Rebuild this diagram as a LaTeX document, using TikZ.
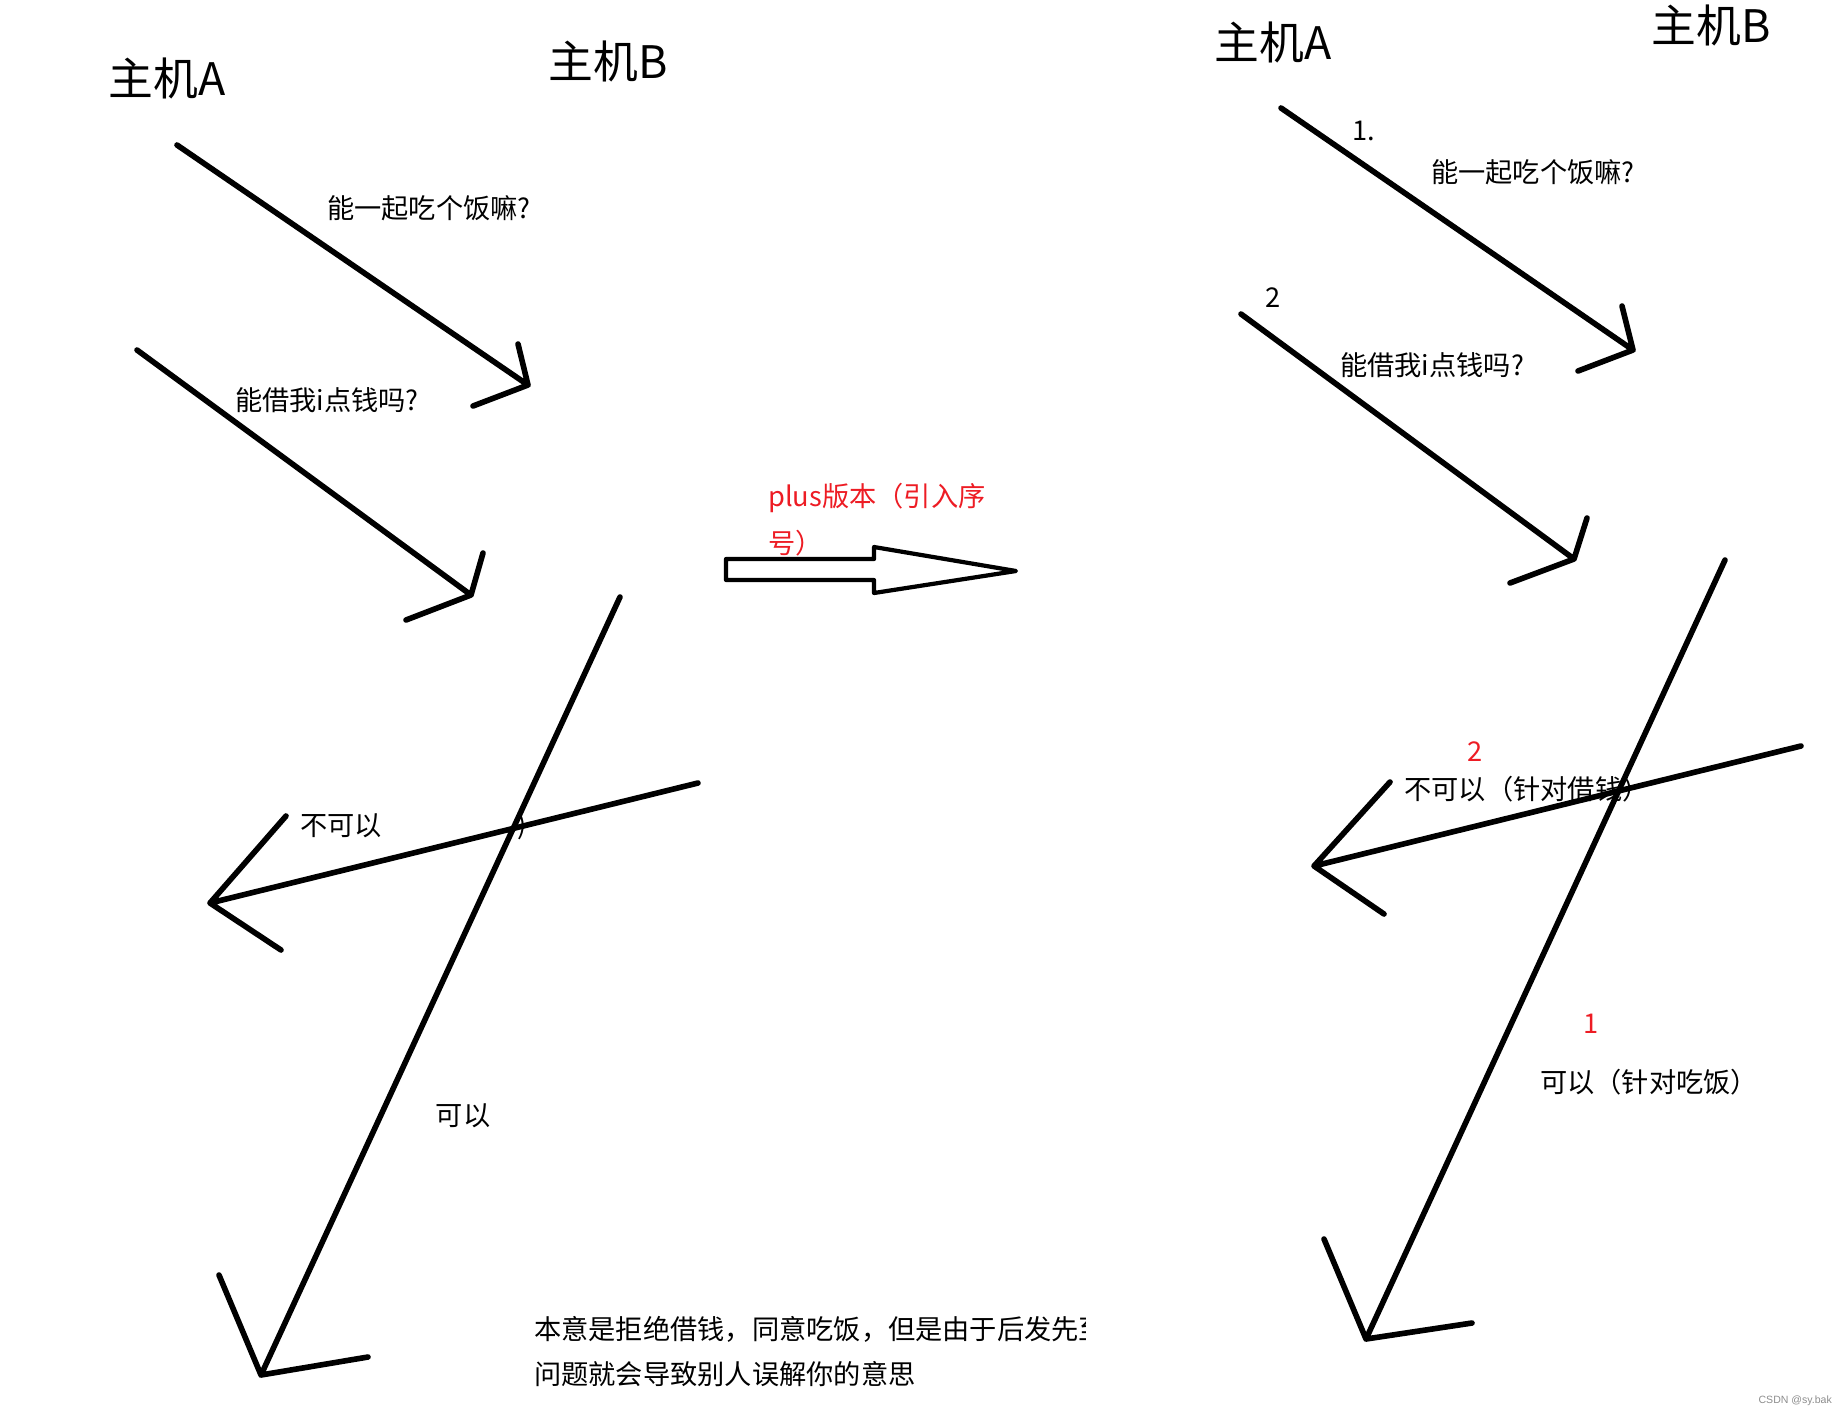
\documentclass[tikz,border=0pt]{standalone}
\usepackage{fontspec}
\setmainfont{Noto Sans CJK SC}
\newfontfamily\markfont{Liberation Sans}
\definecolor{paintred}{RGB}{237,28,36}
\begin{document}
\begin{tikzpicture}[x=0.02cm,y=-0.02cm,
  hand/.style={line width=3.2pt,line cap=round,line join=round},
  host/.style={font=\fontsize{25.5}{30}\selectfont},
  msg/.style={font=\fontsize{15.5}{19}\selectfont},
  redmsg/.style={msg,text=paintred}]
\useasboundingbox (0,0) rectangle (1846,1417);
% ---- left: without sequence numbers
\node[host] (hostA) at (167,78) {主机A};
\node[host] (hostB) at (608,61) {主机B};
\coordinate (l1s) at (177,145); \coordinate (l1t) at (528,385);
\coordinate (l1b) at (518,344); \coordinate (l1c) at (473,406);
\draw[hand] (l1s) -- (l1t) (l1b) -- (l1t) -- (l1c);
\node[msg] (eat) at (429,208) {能一起吃个饭嘛?};
\coordinate (l2s) at (137,350); \coordinate (l2t) at (471,595);
\coordinate (l2b) at (483,553); \coordinate (l2c) at (406,620);
\draw[hand] (l2s) -- (l2t) (l2b) -- (l2t) -- (l2c);
\node[msg] (lend) at (327,400) {能借我i点钱吗?};
\coordinate (l3s) at (698,783); \coordinate (l3t) at (210,903);
\coordinate (l3b) at (286,816); \coordinate (l3c) at (281,950);
\draw[hand] (l3s) -- (l3t) (l3b) -- (l3t) -- (l3c);
\node[msg] (no) at (341,826) {不可以};
\node[msg] (noend) at (522,826) {)};
\coordinate (l4s) at (620,597); \coordinate (l4t) at (261,1375);
\coordinate (l4b) at (219,1275); \coordinate (l4c) at (368,1357);
\draw[hand] (l4s) -- (l4t) (l4b) -- (l4t) -- (l4c);
\node[msg] (yes) at (463,1116) {可以};
% ---- the big hollow arrow
\draw[line width=2.4pt,line join=round] (726,559) -- (874,559) -- (874,547)
  -- (1016,571) -- (874,593) -- (874,580) -- (726,580) -- cycle;
\node[redmsg,anchor=west] (plus) at (762,498) {plus版本（引入序};
\node[redmsg,anchor=west] (plusb) at (762,543) {号）};
% ---- right: with sequence numbers
\node[host] (hostA2) at (1273,42) {主机A};
\node[host] (hostB2) at (1711,25) {主机B};
\coordinate (r1s) at (1281,108); \coordinate (r1t) at (1633,350);
\coordinate (r1b) at (1622,306); \coordinate (r1c) at (1578,371);
\draw[hand] (r1s) -- (r1t) (r1b) -- (r1t) -- (r1c);
\node[msg] (one) at (1364,131) {1.};
\node[msg] (eat2) at (1533,172) {能一起吃个饭嘛?};
\coordinate (r2s) at (1241,314); \coordinate (r2t) at (1574,559);
\coordinate (r2b) at (1587,518); \coordinate (r2c) at (1510,583);
\draw[hand] (r2s) -- (r2t) (r2b) -- (r2t) -- (r2c);
\node[msg] (two) at (1273,298) {2};
\node[msg] (lend2) at (1432,365) {能借我i点钱吗?};
\coordinate (r3s) at (1801,746); \coordinate (r3t) at (1314,866);
\coordinate (r3b) at (1390,782); \coordinate (r3c) at (1384,914);
\draw[hand] (r3s) -- (r3t) (r3b) -- (r3t) -- (r3c);
\node[redmsg] (seq2) at (1475,752) {2};
\node[msg] (no2) at (1527,789) {不可以（针对借钱）};
\coordinate (r4s) at (1725,560); \coordinate (r4t) at (1366,1339);
\coordinate (r4b) at (1324,1239); \coordinate (r4c) at (1472,1323);
\draw[hand] (r4s) -- (r4t) (r4b) -- (r4t) -- (r4c);
\node[redmsg] (seq1) at (1591,1024) {1};
\node[msg] (yes2) at (1649,1082) {可以（针对吃饭）};
% ---- note at the bottom
\begin{scope}
\clip (0,0) rectangle (1085,1417);
\node[msg,anchor=west] (note) at (528,1329) {本意是拒绝借钱，同意吃饭，但是由于后发先至};
\end{scope}
\node[msg,anchor=west] (noteb) at (528,1374) {问题就会导致别人误解你的意思};
\node[font=\markfont\fontsize{6}{7}\selectfont,text=black!45,anchor=east] (csdn) at (1838,1401) {CSDN @sy.bak};
\end{tikzpicture}
\end{document}
